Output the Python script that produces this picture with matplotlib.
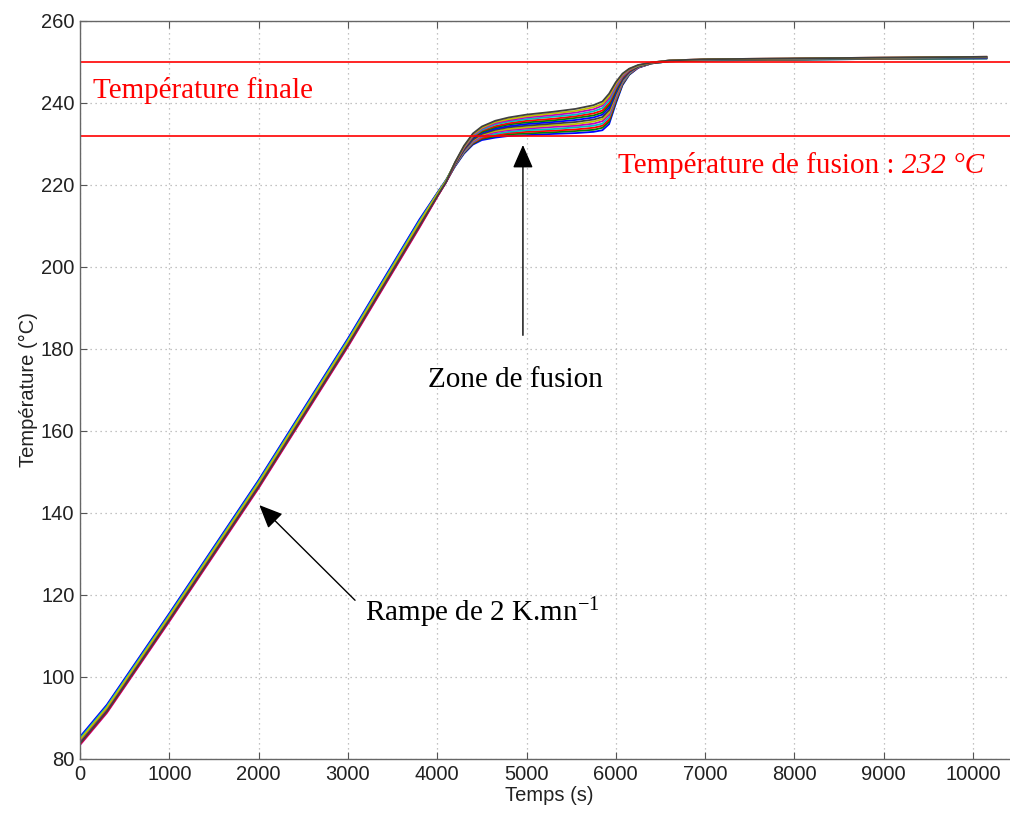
import matplotlib
matplotlib.use("Agg")
import matplotlib.pyplot as plt

# ---------------- data ----------------
time_s = [0, 300, 1000, 2000, 3000, 3800, 4000, 4100, 4200, 4300, 4400, 4500, 4650, 4800,
          5000, 5300, 5550, 5750, 5850, 5925, 6000, 6075, 6150, 6250, 6400, 6600,
          7000, 8000, 9000, 10150]

curve_01 = [84.6, 92.4, 114.7, 147.2, 181.7, 210.7, 217.6, 221.0, 224.5, 227.6, 229.8, 230.9, 231.5, 231.9, 232.1, 232.4, 232.6, 232.9, 233.3, 234.8, 239.8, 244.3, 246.8, 248.5, 249.6, 250.1, 250.3, 250.5, 250.7, 250.8]
curve_02 = [83.7, 91.5, 113.8, 146.3, 180.8, 209.8, 217.2, 220.7, 224.6, 227.8, 230.0, 231.2, 231.8, 232.3, 232.5, 232.8, 233.1, 233.4, 233.9, 235.4, 240.2, 244.5, 246.9, 248.6, 249.6, 250.1, 250.3, 250.5, 250.7, 250.8]
curve_03 = [85.2, 93.0, 115.3, 147.8, 182.3, 211.3, 217.9, 221.1, 224.7, 227.9, 230.2, 231.4, 232.1, 232.6, 232.9, 233.2, 233.5, 233.9, 234.4, 235.9, 240.6, 244.7, 247.0, 248.6, 249.6, 250.1, 250.4, 250.6, 250.8, 250.9]
curve_04 = [84.2, 92.0, 114.3, 146.8, 181.3, 210.3, 217.4, 220.8, 224.7, 228.0, 230.4, 231.7, 232.4, 232.9, 233.3, 233.6, 234.0, 234.4, 234.9, 236.5, 241.0, 244.9, 247.1, 248.7, 249.6, 250.1, 250.4, 250.6, 250.8, 250.9]
curve_05 = [83.4, 91.2, 113.5, 146.0, 180.5, 209.5, 217.0, 220.6, 224.8, 228.2, 230.6, 231.9, 232.8, 233.3, 233.7, 234.1, 234.4, 234.9, 235.5, 237.1, 241.4, 245.2, 247.3, 248.7, 249.7, 250.2, 250.4, 250.6, 250.8, 251.0]
curve_06 = [84.9, 92.7, 115.0, 147.5, 182.0, 211.0, 217.8, 221.1, 224.9, 228.3, 230.8, 232.2, 233.1, 233.6, 234.0, 234.5, 234.8, 235.4, 236.0, 237.6, 241.8, 245.4, 247.4, 248.8, 249.7, 250.2, 250.4, 250.6, 250.8, 251.0]
curve_07 = [83.9, 91.7, 114.0, 146.5, 181.0, 210.0, 217.3, 220.8, 225.0, 228.5, 231.0, 232.4, 233.4, 234.0, 234.4, 234.9, 235.3, 235.9, 236.5, 238.2, 242.2, 245.6, 247.5, 248.8, 249.7, 250.2, 250.4, 250.6, 250.8, 251.0]
curve_08 = [85.4, 93.2, 115.5, 148.0, 182.5, 211.5, 218.0, 221.2, 225.0, 228.6, 231.3, 232.7, 233.7, 234.3, 234.8, 235.3, 235.8, 236.4, 237.1, 238.8, 242.6, 245.8, 247.6, 248.9, 249.7, 250.2, 250.5, 250.7, 250.9, 251.0]
curve_09 = [84.4, 92.2, 114.5, 147.0, 181.5, 210.5, 217.5, 220.9, 225.1, 228.8, 231.5, 232.9, 234.0, 234.7, 235.2, 235.7, 236.3, 236.9, 237.6, 239.4, 243.0, 246.0, 247.7, 248.9, 249.7, 250.2, 250.5, 250.7, 250.9, 251.1]
curve_10 = [83.6, 91.4, 113.7, 146.2, 180.7, 209.7, 217.1, 220.7, 225.2, 228.9, 231.7, 233.2, 234.3, 235.0, 235.6, 236.1, 236.7, 237.4, 238.1, 239.9, 243.4, 246.2, 247.8, 249.0, 249.7, 250.2, 250.5, 250.7, 250.9, 251.1]
curve_11 = [85.0, 92.8, 115.1, 147.6, 182.1, 211.1, 217.8, 221.1, 225.3, 229.1, 231.9, 233.4, 234.7, 235.4, 236.0, 236.6, 237.1, 237.9, 238.7, 240.5, 243.8, 246.5, 248.0, 249.0, 249.8, 250.3, 250.5, 250.7, 250.9, 251.1]
curve_12 = [84.0, 91.8, 114.1, 146.6, 181.1, 210.1, 217.3, 220.8, 225.3, 229.2, 232.1, 233.7, 235.0, 235.7, 236.4, 237.0, 237.6, 238.4, 239.3, 241.1, 244.2, 246.7, 248.1, 249.1, 249.8, 250.3, 250.6, 250.8, 251.0, 251.2]
curve_13 = [84.7, 92.5, 114.8, 147.3, 181.8, 210.8, 217.7, 221.0, 225.4, 229.3, 232.3, 233.9, 235.3, 236.0, 236.7, 237.4, 238.0, 238.9, 239.7, 241.6, 244.6, 246.9, 248.2, 249.1, 249.8, 250.3, 250.6, 250.8, 251.0, 251.2]
curve_14 = [83.8, 91.6, 113.9, 146.4, 180.9, 209.9, 217.2, 220.7, 225.5, 229.5, 232.5, 234.2, 235.6, 236.4, 237.1, 237.8, 238.5, 239.4, 240.3, 242.2, 245.0, 247.1, 248.3, 249.2, 249.8, 250.3, 250.6, 250.8, 251.0, 251.2]

curves = [curve_01, curve_02, curve_03, curve_04, curve_05, curve_06, curve_07,
          curve_08, curve_09, curve_10, curve_11, curve_12, curve_13, curve_14]

final_temp = 250
melting_temp = 232

x_ticks = [0, 1000, 2000, 3000, 4000, 5000, 6000, 7000, 8000, 9000, 10000]
y_ticks = [80, 100, 120, 140, 160, 180, 200, 220, 240, 260]

# MATLAB classic colour order
matlab_colors = [(0, 0, 1), (0, 0.5, 0), (1, 0, 0), (0, 0.75, 0.75),
                 (0.75, 0, 0.75), (0.75, 0.75, 0), (0.25, 0.25, 0.25)]

# ---------------- figure ----------------
plt.rcParams['mathtext.fontset'] = 'custom'
plt.rcParams['mathtext.rm'] = 'Liberation Serif'
plt.rcParams['mathtext.it'] = 'Liberation Serif:italic'

W, H = 1010, 817
fig = plt.figure(figsize=(W / 100, H / 100), dpi=100)
xmax = 10500
left_px, px_per_unit = 80, 0.0893
top_px, bottom_px = 20.7, 759
ax = fig.add_axes([left_px / W, (H - bottom_px) / H,
                   xmax * px_per_unit / W, (bottom_px - top_px) / H])

for i, c in enumerate(curves):
    ax.plot(time_s, c, color=matlab_colors[i % len(matlab_colors)], lw=1.3)

ax.axhline(final_temp, color='red', lw=1.2)
ax.axhline(melting_temp, color='red', lw=1.2)

ax.set_xlim(0, xmax)
ax.set_ylim(80, 260)
ax.set_xticks(x_ticks)
ax.set_yticks(y_ticks)
ax.grid(True, linestyle=(0, (1, 3)), color='#b0b0b0', lw=0.9)
ax.tick_params(direction='in', top=True, right=False, length=5, width=0.8,
               color='#555555', labelsize=14.5, labelcolor='#222222', pad=4)
for lab in ax.get_xticklabels() + ax.get_yticklabels():
    lab.set_family('Liberation Sans')
for s in ax.spines.values():
    s.set_color('#666666')
    s.set_linewidth(1.0)
ax.spines['right'].set_visible(False)

ax.set_xlabel('Temps (s)', fontsize=14.5, family='Liberation Sans', color='#222222', labelpad=2)
ax.set_ylabel('Température (°C)', fontsize=14.5, family='Liberation Sans', color='#222222', labelpad=2)

serif = 'Liberation Serif'
fs = 21
ax.text(146, 243.1, 'Température finale', color='red', fontsize=fs, family=serif,
        ha='left', va='center')
t1 = ax.text(6025, 224.6, 'Température de fusion : ', color='red', fontsize=fs,
             family=serif, ha='left', va='center')
ax.annotate('232 °C', xy=(1, 0), xycoords=t1, ha='left', va='bottom', color='red',
            fontsize=fs, family=serif, style='italic')
ax.text(4871, 172.3, 'Zone de fusion', color='black', fontsize=fs, family=serif,
        ha='center', va='center')
ax.text(3191, 115.7, r'Rampe de 2 K.mn$^{\mathrm{-1}}$', color='black', fontsize=fs,
        family=serif, ha='left', va='center')

arrow_kw = dict(arrowstyle='-|>,head_length=0.8,head_width=0.35', mutation_scale=18,
                color='black', lw=1.0, shrinkA=0, shrinkB=0)
ax.annotate('', xy=(4960, 229.7), xytext=(4960, 183.3), arrowprops=arrow_kw)
ax.annotate('', xy=(2008, 141.9), xytext=(3080, 118.7), arrowprops=arrow_kw)

fig.savefig('out.png', dpi=100)
